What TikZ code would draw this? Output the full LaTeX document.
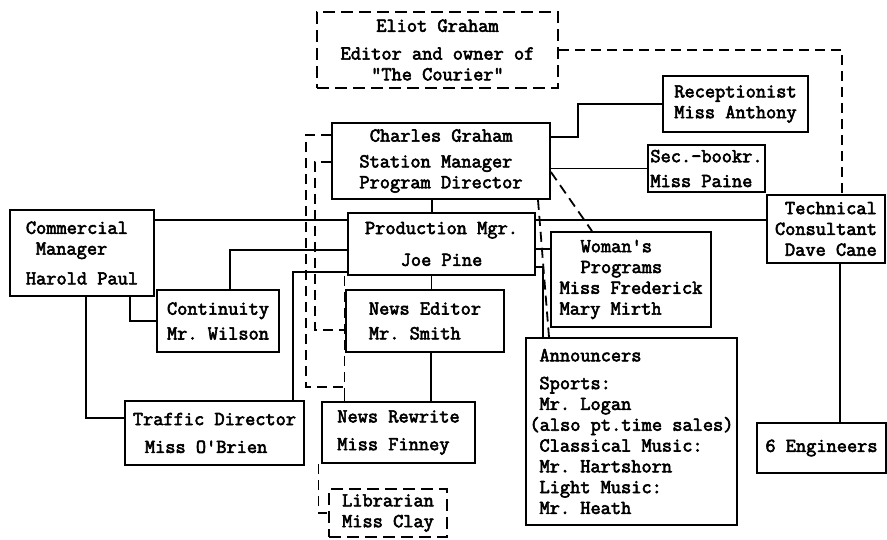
\documentclass[tikz,border=0pt]{standalone}
\usepackage{fontspec}
\setmonofont{Latin Modern Mono}[FakeBold=3]
\usetikzlibrary{backgrounds}
\newcommand{\chartfont}{\ttfamily\fontsize{19.8}{20.8}\selectfont}

\begin{document}
\begin{tikzpicture}[
    x=1pt, y=-1pt,
    box/.style={draw, line width=1.8pt, fill=white, inner sep=0pt, align=center, font=\chartfont},
    dashbox/.style={box, dash pattern=on 12pt off 6pt},
    link/.style={line width=1.8pt},
    dashlink/.style={line width=1.8pt, dash pattern=on 10pt off 6pt}
]
\useasboundingbox (0,0) rectangle (887,539);
\node[dashbox, minimum width=241pt, minimum height=76pt] (eliot) at (437.5,50)
    {Eliot Graham\\[7pt] Editor and owner of\\ "The Courier"};
\node[box, align=left, minimum width=218pt, minimum height=76pt] (charles) at (441,161)
    {\hspace*{10.4pt}Charles Graham\\[5pt] Station Manager\\ Program Director};
\node[box, minimum width=145pt, minimum height=56pt] (recep) at (735.5,104)
    {Receptionist\\ Miss Anthony};
\node[box, align=left, minimum width=117pt, minimum height=47pt] (sec) at (706.5,168.5)
    {Sec.-bookr.\\[4pt] Miss Paine};
\node[box, minimum width=187pt, minimum height=62pt] (prod) at (441.5,244)
    {Production Mgr.\\[11pt] Joe Pine};
\node[box, align=left, minimum width=144pt, minimum height=86pt] (commercial) at (82,253)
    {Commercial\\ \hspace*{10pt}Manager\\[9pt] Harold Paul};
\node[box, minimum width=122pt, minimum height=62pt] (continuity) at (218,321)
    {Continuity\\[4pt] Mr. Wilson};
\node[box, align=left, minimum width=179pt, minimum height=64pt] (traffic) at (214.5,433)
    {Traffic Director\\[7pt] \hspace*{12pt}Miss O'Brien};
\node[box, align=left, minimum width=158pt, minimum height=62pt] (newsed) at (425,321)
    {News Editor\\[4pt] Mr. Smith};
\node[box, align=left, minimum width=153pt, minimum height=61pt] (rewrite) at (398.5,432.5)
    {News Rewrite\\[7pt] Miss Finney};
\node[dashbox, minimum width=118pt, minimum height=48pt] (librarian) at (388,513)
    {Librarian\\ Miss Clay};
\node[box, align=left, minimum width=160pt, minimum height=95pt] (woman) at (631,279.5)
    {\hspace*{21pt}Woman's\\ \hspace*{21pt}Programs\\ Miss Frederick\\ Mary Mirth};
\node[box, align=left, minimum width=211pt, minimum height=187pt] (announcers) at (631.5,431.5)
    {\hspace*{10pt}Announcers\\[7pt] \hspace*{10pt}Sports:\\ \hspace*{10pt}Mr. Logan\\
     (also pt.time sales)\\ \hspace*{10pt}Classical Music:\\ \hspace*{10pt}Mr. Hartshorn\\
     \hspace*{10pt}Light Music:\\ \hspace*{10pt}Mr. Heath};
\node[box, align=left, minimum width=118pt, minimum height=68pt] (technical) at (826,229)
    {\hspace*{10pt}Technical\\ Consultant\\ \hspace*{10pt}Dave Cane};
\node[box, minimum width=129pt, minimum height=50pt] (engineers) at (821.5,448)
    {6 Engineers};

\begin{scope}[on background layer]
\fill[white] (0,0) rectangle (887,539);
% solid lines of authority
\draw[link] ([xshift=-9pt]charles.south) -- ([xshift=-9pt]charles.south |- prod.north);
\draw[link] ([xshift=-10pt]prod.south) -- ([xshift=-10pt]prod.south |- newsed.north);
\draw[link] ([xshift=6pt]newsed.south) -- ([xshift=6pt]newsed.south |- rewrite.north);
\draw[link] ([yshift=24pt]charles.east) -| ([xshift=-84pt]recep.west) -- (recep.west);
\draw[link] (sec.west -| charles.east) -- (sec.west);
\draw[link] ([yshift=33pt]commercial.east) -- ([yshift=33pt]commercial.east -| technical.west);
\draw[link] ([yshift=-6pt]prod.west) -| ([xshift=12pt]continuity.north);
\draw[link] ([xshift=48pt]commercial.south) |- (continuity.west);
\draw[link] ([xshift=4pt]commercial.south) |- ([yshift=15pt]traffic.west);
\draw[link] ([xshift=78.5pt]traffic.north) |- ([yshift=-28pt]prod.west);
\draw[link] ([yshift=-5pt]prod.east) -- ([yshift=-5pt]prod.east -| woman.west);
\draw[link] ([yshift=-23pt]prod.east) -| ([xshift=-88.5pt]announcers.north);
\draw[link] ([xshift=14pt]technical.south) -- ([xshift=14pt]technical.south |- engineers.north);
% dashed lines
\draw[dashlink] (eliot.east) -| ([xshift=16pt]technical.north);
\draw[dashlink] ([yshift=-11pt]charles.east) -- ([xshift=-39pt]woman.north);
\draw[dashlink] ([xshift=97pt]charles.south) -- ([xshift=-82.5pt]announcers.north);
\draw[dashlink] ([yshift=26pt]charles.west) -- ++(-25,0) |- ([xshift=-54pt,yshift=14pt]rewrite.north)
    -- ([xshift=-54pt]rewrite.north);
\draw[dashlink] ([xshift=-97pt]prod.south) -- ([xshift=-54pt]rewrite.north);
\draw[dashlink] ([yshift=-1pt]charles.west) -- ++(-16,0) |- ([yshift=-9pt]newsed.west);
\draw[dashlink] ([xshift=-80pt]rewrite.south) |- (librarian.west);
\end{scope}
\end{tikzpicture}
\end{document}
